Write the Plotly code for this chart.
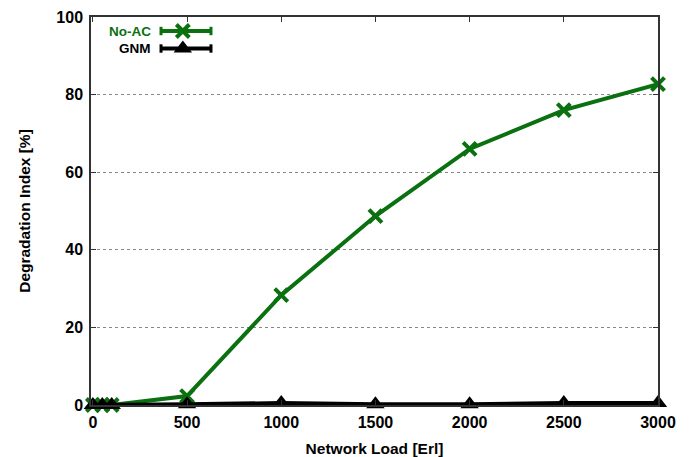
import plotly.graph_objects as go

# Offered network load [Erl]
load = [0, 50, 100, 500, 1000, 1500, 2000, 2500, 3000]

# Degradation index [%] per admission-control scheme
no_ac = [0.0, 0.0, 0.0, 2.3, 28.3, 48.7, 66.0, 76.0, 82.7]
gnm = [0.0, 0.0, 0.0, 0.2, 0.5, 0.2, 0.2, 0.5, 0.5]

x_ticks = [0, 500, 1000, 1500, 2000, 2500, 3000]
y_ticks = [0, 20, 40, 60, 80, 100]

series_names = ["No-AC", "GNM"]
GREEN = "#0a7010"
BLACK = "#000000"
FONT = "Liberation Sans"

fig = go.Figure()

fig.add_trace(go.Scatter(
    x=load, y=no_ac, name=series_names[0], mode="lines+markers",
    line=dict(color=GREEN, width=4),
    marker=dict(symbol="x-thin", size=13, line=dict(color=GREEN, width=4), color=GREEN),
    cliponaxis=False, showlegend=False,
))
fig.add_trace(go.Scatter(
    x=load, y=gnm, name=series_names[1], mode="lines+markers",
    line=dict(color=BLACK, width=4),
    marker=dict(symbol="triangle-up", size=16, color=BLACK),
    cliponaxis=False, showlegend=False,
))

# Key in the top-left corner: label, then a line sample with the marker
key_y = [0.9639, 0.9188]
key_colors = [GREEN, BLACK]
key_symbols = ["x-thin", "triangle-up"]
for name, ky, col, sym in zip(series_names, key_y, key_colors, key_symbols):
    fig.add_trace(go.Scatter(
        x=[0.1235, 0.2116], y=[ky, ky], xaxis="x2", yaxis="y2", mode="lines+markers",
        line=dict(color=col, width=4),
        marker=dict(symbol="line-ns", size=6, line=dict(color=col, width=3), color=col),
        showlegend=False, hoverinfo="skip", cliponaxis=False,
    ))
    if sym == "x-thin":
        mk = dict(symbol=sym, size=13, line=dict(color=col, width=4), color=col)
    else:
        mk = dict(symbol=sym, size=16, color=col)
    fig.add_trace(go.Scatter(
        x=[0.162], y=[ky], xaxis="x2", yaxis="y2", mode="markers",
        marker=mk, showlegend=False, hoverinfo="skip", cliponaxis=False,
    ))
    fig.add_annotation(
        x=0.1076, y=ky, xref="x2", yref="y2", text=name, showarrow=False,
        xanchor="right", yanchor="middle", borderpad=0,
        font=dict(family=FONT, size=13.5, color=col, weight="bold"),
    )

axis_common = dict(
    showline=True, linecolor="#333333", linewidth=1.5, mirror="ticks",
    ticks="inside", ticklen=5, tickcolor="#333333", tickwidth=1,
    tickfont=dict(family=FONT, size=16, color="black", weight="bold"),
    zeroline=False, automargin=False,
)

fig.update_layout(
    width=692, height=457,
    margin=dict(l=91, r=34, t=17, b=52),
    paper_bgcolor="white", plot_bgcolor="white",
    xaxis=dict(
        range=[-10, 3000], tickvals=x_ticks, showgrid=False,
        ticklabelstandoff=2,
        title=dict(text="Network Load [Erl]", standoff=14,
                   font=dict(family=FONT, size=15.5, color="black", weight="bold")),
        **axis_common,
    ),
    yaxis=dict(
        range=[0, 100], tickvals=y_ticks, showgrid=True,
        gridcolor="#888888", griddash="dot", gridwidth=1,
        ticklabelstandoff=3,
        title=dict(text="Degradation Index [%]", standoff=22,
                   font=dict(family=FONT, size=15.5, color="black", weight="bold")),
        **axis_common,
    ),
    xaxis2=dict(overlaying="x", range=[0, 1], visible=False, fixedrange=True),
    yaxis2=dict(overlaying="y", range=[0, 1], visible=False, fixedrange=True),
    showlegend=False,
)

fig.write_html("out.html")
